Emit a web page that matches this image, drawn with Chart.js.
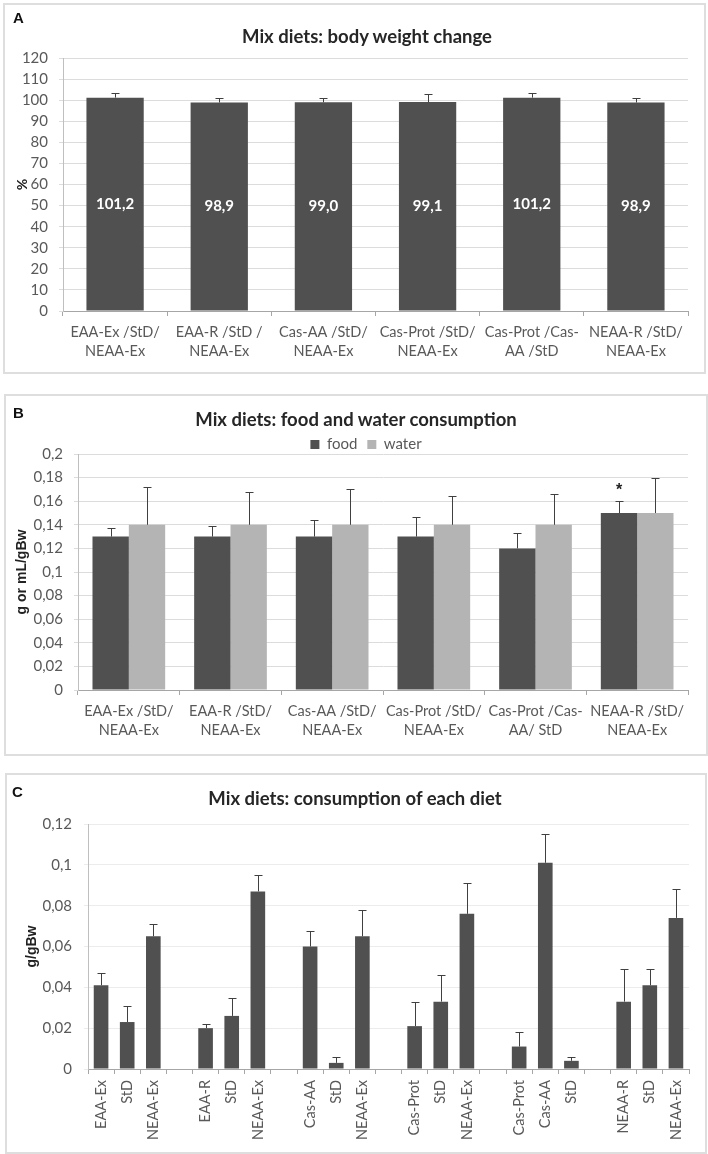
<!DOCTYPE html>
<html><head><meta charset="utf-8">
<script src="https://cdn.jsdelivr.net/npm/chart.js@4.4.0/dist/chart.umd.min.js"></script>
<style>
body{margin:0;background:#fff;width:708px;height:1154px;position:relative;overflow:hidden;font-family:Lato,sans-serif;}
.panel{position:absolute;border:2px solid #dedede;box-sizing:border-box;}
.letter{position:absolute;font:bold 15px "Liberation Sans",Arial,sans-serif;color:#111;line-height:17px;}
.title{position:absolute;font:bold 18.5px Lato,sans-serif;color:#262626;transform:translate(-50%,-50%);white-space:nowrap;}
canvas{position:absolute;left:0;}
</style></head>
<body>
<div class="panel" style="left:3px;top:3px;width:703px;height:371px"></div>
<div class="panel" style="left:4px;top:394px;width:704px;height:362px"></div>
<div class="panel" style="left:5px;top:773px;width:702px;height:381px"></div>
<canvas id="cA" width="708" height="378" style="top:0px;width:708px;height:378px"></canvas>
<canvas id="cB" width="708" height="378" style="top:380px;width:708px;height:378px"></canvas>
<canvas id="cC" width="708" height="384" style="top:770px;width:708px;height:384px"></canvas>
<div class="letter" style="left:13px;top:9px">A</div>
<div class="letter" style="left:13px;top:404px">B</div>
<div class="letter" style="left:12px;top:783px">C</div>
<div class="title" style="left:367px;top:36px">Mix diets: body weight change</div>
<div class="title" style="left:356px;top:419px">Mix diets: food and water consumption</div>
<div class="title" style="left:355px;top:798px">Mix diets: consumption of each diet</div>
<script>
// ---- Panel A data ----
const aCategories = [['EAA-Ex /StD/','NEAA-Ex'],['EAA-R /StD /','NEAA-Ex'],['Cas-AA /StD/','NEAA-Ex'],['Cas-Prot /StD/','NEAA-Ex'],['Cas-Prot /Cas-','AA /StD'],['NEAA-R /StD/','NEAA-Ex']];
const aValues = [101.2, 98.9, 99.0, 99.1, 101.2, 98.9];
const aErrors = [2.3, 2.0, 1.9, 3.8, 2.0, 2.0];

// ---- Panel B data ----
const bCategories = [['EAA-Ex /StD/','NEAA-Ex'],['EAA-R /StD/','NEAA-Ex'],['Cas-AA /StD/','NEAA-Ex'],['Cas-Prot /StD/','NEAA-Ex'],['Cas-Prot /Cas-','AA/ StD'],['NEAA-R /StD/','NEAA-Ex']];
const bFood = [0.13, 0.13, 0.13, 0.13, 0.12, 0.15];
const bFoodErr = [0.007, 0.009, 0.014, 0.017, 0.013, 0.010];
const bWater = [0.14, 0.14, 0.14, 0.14, 0.14, 0.15];
const bWaterErr = [0.032, 0.028, 0.030, 0.024, 0.026, 0.030];
const bFoodMarks = ['', '', '', '', '', '*'];

// ---- Panel C data ----
const cCategories = ['EAA-Ex','StD','NEAA-Ex','', 'EAA-R','StD','NEAA-Ex','', 'Cas-AA','StD','NEAA-Ex','', 'Cas-Prot','StD','NEAA-Ex','', 'Cas-Prot','Cas-AA','StD','', 'NEAA-R','StD','NEAA-Ex'];
const cValues = [0.041,0.023,0.065,null, 0.020,0.026,0.087,null, 0.060,0.003,0.065,null, 0.021,0.033,0.076,null, 0.011,0.101,0.004,null, 0.033,0.041,0.074];
const cErrors = [0.006,0.008,0.006,null, 0.002,0.009,0.008,null, 0.0074,0.003,0.013,null, 0.012,0.013,0.015,null, 0.007,0.014,0.002,null, 0.016,0.008,0.014];

const DARK = '#505050', LIGHT = '#b4b4b4', TXT = '#595959';
const fmt = v => Number(Number(v).toFixed(3)).toString().replace('.', ',');

const errorBars = {
  id: 'errorBars',
  afterDatasetsDraw(chart, args, opts) {
    const ctx = chart.ctx, y = chart.scales.y;
    (opts.errors || []).forEach((errs, di) => {
      if (!errs) return;
      const meta = chart.getDatasetMeta(di);
      const data = chart.data.datasets[di].data;
      ctx.save();
      ctx.strokeStyle = opts.color || '#404040';
      ctx.lineWidth = 1;
      meta.data.forEach((el, i) => {
        const v = data[i], e = errs[i];
        if (v == null || e == null) return;
        const x = Math.round(el.x) + 0.5;
        const yTop = Math.round(y.getPixelForValue(v + e)) + 0.5;
        ctx.beginPath();
        ctx.moveTo(x, el.y); ctx.lineTo(x, yTop);
        ctx.moveTo(x - opts.cap, yTop); ctx.lineTo(x + opts.cap, yTop);
        ctx.stroke();
      });
      ctx.restore();
    });
    if (opts.marks) {
      const meta = chart.getDatasetMeta(0);
      const data = chart.data.datasets[0].data;
      ctx.save();
      ctx.fillStyle = '#222'; ctx.font = 'bold 16px "Liberation Sans"';
      ctx.textAlign = 'center'; ctx.textBaseline = 'middle';
      meta.data.forEach((el, i) => {
        if (!opts.marks[i]) return;
        const yTop = y.getPixelForValue(data[i] + opts.errors[0][i]);
        ctx.fillText(opts.marks[i], el.x, yTop - 11);
      });
      ctx.restore();
    }
  }
};

const valueLabels = {
  id: 'valueLabels',
  afterDatasetsDraw(chart, args, opts) {
    if (!opts.show) return;
    const ctx = chart.ctx, meta = chart.getDatasetMeta(0);
    const data = chart.data.datasets[0].data;
    ctx.save();
    ctx.fillStyle = '#ffffff'; ctx.font = 'bold 15px Lato';
    ctx.textAlign = 'center'; ctx.textBaseline = 'middle';
    meta.data.forEach((el, i) => {
      ctx.fillText(data[i].toFixed(1).replace('.', ','), el.x, (el.y + el.base) / 2);
    });
    ctx.restore();
  }
};

const legendTweak = {
  id: 'legendTweak',
  beforeLayout(chart, args, opts) {
    const lg = chart.legend;
    if (lg && !lg.__patched) {
      const f = lg.fit.bind(lg);
      lg.fit = function () { f(); this.height = opts.height; };
      lg.__patched = true;
    }
  },
  afterLayout(chart, args, opts) {
    const lg = chart.legend;
    if (lg) { lg.left += opts.dx; lg.right += opts.dx; }
  }
};

function yScale(max, step, title, width, pad, gridColor, titleFamily) {
  return {
    min: 0, max: max,
    ticks: { stepSize: step, color: TXT, font: { family: 'Lato', size: 15 }, padding: pad, callback: v => fmt(v) },
    grid: { color: gridColor, tickLength: 4, drawTicks: true },
    border: { display: true, color: '#bfbfbf' },
    title: { display: true, text: title, color: '#222', padding: 0,
             font: { family: titleFamily, size: 14, weight: 'bold' } },
    afterFit(s) { s.width = width; }
  };
}
function xScale(height, pad, rotation) {
  return {
    ticks: { color: TXT, font: { family: 'Lato', size: 14.5, lineHeight: 1.32 }, padding: pad,
             autoSkip: false, maxRotation: rotation, minRotation: rotation },
    grid: { offset: true, drawOnChartArea: false, drawTicks: true, tickLength: 5, color: '#a6a6a6' },
    border: { display: true, color: '#a6a6a6' },
    afterFit(s) { s.height = height; }
  };
}

// Panel A
new Chart(document.getElementById('cA'), {
  type: 'bar',
  data: { labels: aCategories, datasets: [{ label: 'body weight change', data: aValues, backgroundColor: DARK,
          barPercentage: 0.55, categoryPercentage: 1 }] },
  options: {
    responsive: false, animation: false, events: [], devicePixelRatio: 1,
    layout: { padding: { left: 14, right: 20, top: 58, bottom: 0 } },
    scales: { x: xScale(67, 7, 0), y: yScale(120, 10, '%', 49, 11, '#dcdcdc', 'Lato') },
    plugins: { legend: { display: false }, tooltip: { enabled: false },
               errorBars: { errors: [aErrors], cap: 4, color: '#404040' },
               valueLabels: { show: true } }
  },
  plugins: [errorBars, valueLabels]
});

// Panel B
new Chart(document.getElementById('cB'), {
  type: 'bar',
  data: { labels: bCategories, datasets: [
    { label: 'food', data: bFood, backgroundColor: DARK, barPercentage: 1, categoryPercentage: 0.715 },
    { label: 'water', data: bWater, backgroundColor: LIGHT, barPercentage: 1, categoryPercentage: 0.715 }
  ] },
  options: {
    responsive: false, animation: false, events: [], devicePixelRatio: 1,
    layout: { padding: { left: 14, right: 20, top: 47, bottom: 0 } },
    scales: { x: xScale(68, 7, 0), y: yScale(0.2, 0.02, 'g or mL/gBw', 64, 11, '#dcdcdc', '"Liberation Sans"') },
    plugins: {
      legend: { display: true, position: 'top',
                labels: { boxWidth: 9, boxHeight: 9, padding: 10, color: TXT, font: { family: 'Lato', size: 15 } } },
      legendTweak: { height: 27, dx: 15 },
      tooltip: { enabled: false },
      errorBars: { errors: [bFoodErr, bWaterErr], cap: 4, color: '#404040', marks: bFoodMarks }
    }
  },
  plugins: [legendTweak, errorBars]
});

// Panel C
new Chart(document.getElementById('cC'), {
  type: 'bar',
  data: { labels: cCategories, datasets: [{ label: 'consumption', data: cValues, backgroundColor: DARK,
          barPercentage: 0.56, categoryPercentage: 1 }] },
  options: {
    responsive: false, animation: false, events: [], devicePixelRatio: 1,
    layout: { padding: { left: 24, right: 19, top: 54, bottom: 0 } },
    scales: { x: xScale(85, 6, 90), y: yScale(0.12, 0.02, 'g/gBw', 64, 12, '#ececec', '"Liberation Sans"') },
    plugins: { legend: { display: false }, tooltip: { enabled: false },
               errorBars: { errors: [cErrors], cap: 4, color: '#404040' } }
  },
  plugins: [errorBars]
});
</script>
</body></html>
